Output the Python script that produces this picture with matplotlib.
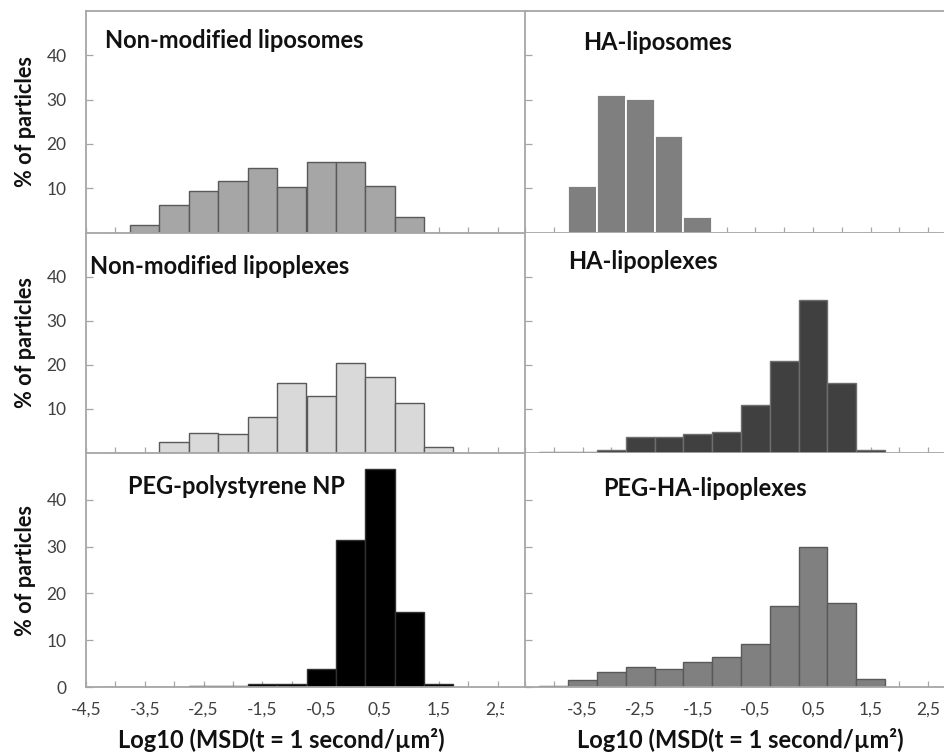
import numpy as np
import matplotlib
matplotlib.use("Agg")
import matplotlib.pyplot as plt
from matplotlib.patches import Rectangle

# ---- data: % of particles per log10(MSD) bin (bin width 0.5) ----
bin_centers = [-4.0, -3.5, -3.0, -2.5, -2.0, -1.5, -1.0, -0.5, 0.0, 0.5, 1.0, 1.5]

nonmod_liposomes = [0.0, 1.8, 6.2, 9.3, 11.6, 14.6, 10.3, 16.0, 16.0, 10.5, 3.5, 0.0]
ha_liposomes = [0.0, 10.5, 31.0, 30.2, 21.8, 3.6, 0.0, 0.0, 0.0, 0.0, 0.0, 0.0]
nonmod_lipoplexes = [0.0, 0.0, 2.5, 4.4, 4.2, 8.2, 15.8, 12.9, 20.4, 17.2, 11.2, 1.3]
ha_lipoplexes = [0.2, 0.2, 0.7, 3.5, 3.5, 4.2, 4.8, 10.9, 20.8, 34.6, 15.9, 0.7]
peg_polystyrene = [0.0, 0.0, 0.0, 0.2, 0.2, 0.7, 0.7, 4.0, 31.3, 46.6, 16.0, 0.7]
peg_ha_lipoplexes = [0.3, 1.5, 3.3, 4.4, 3.8, 5.4, 6.4, 9.2, 17.4, 29.8, 17.9, 1.8]

titles = ["Non-modified liposomes", "HA-liposomes",
          "Non-modified lipoplexes", "HA-lipoplexes",
          "PEG-polystyrene NP", "PEG-HA-lipoplexes"]

x_ticks = np.arange(-4.5, 3.01, 0.5)
x_labels_left = ["-4,5", "", "-3,5", "", "-2,5", "", "-1,5", "", "-0,5", "",
                 "0,5", "", "1,5", "", "2,5", ""]
x_labels_right = ["", "", "-3,5", "", "-2,5", "", "-1,5", "", "-0,5", "",
                  "0,5", "", "1,5", "", "2,5", ""]
y_ticks = [10, 20, 30, 40]
y_ticks_bottom = [0, 10, 20, 30, 40]

x_label = "Log10 (MSD(t = 1 second/\u00b5m\u00b2)"
y_label = "% of particles"

# ---- layout (pixels) ----
W, H = 944, 754
DPI = 100
plt.rcParams["font.family"] = ["Lato", "DejaVu Sans"]

fig = plt.figure(figsize=(W / DPI, H / DPI), dpi=DPI)
fig.patch.set_facecolor("white")

cols = [(86, 527), (525, 957)]
rows = [(11, 232.5), (232.5, 452.7), (452.7, 687.3)]

series = [nonmod_liposomes, ha_liposomes, nonmod_lipoplexes,
          ha_lipoplexes, peg_polystyrene, peg_ha_lipoplexes]
fills = ["#a6a6a6", "#7f7f7f", "#d9d9d9", "#404040", "#000000", "#808080"]
edges = ["#595959", "#ffffff", "#595959", "#6e6e6e", "#303030", "#595959"]
title_pos = [(105, 40), (583, 42), (90, 267), (568, 262), (128, 487), (603, 488)]

axis_grey = "#a6a6a6"
tick_text = "#404040"

for i, vals in enumerate(series):
    r, c = divmod(i, 2)
    x0, x1 = cols[c]
    y0, y1 = rows[r]
    ax = fig.add_axes([x0 / W, 1 - y1 / H, (x1 - x0) / W, (y1 - y0) / H],
                      zorder=c)
    ax.set_facecolor("white" if c == 1 else "none")
    ax.bar(bin_centers, vals, width=0.5, color=fills[i], edgecolor=edges[i],
           linewidth=1.0 if i != 1 else 1.3, zorder=2)
    ax.set_xlim(-4.5, 3.0)
    ax.set_ylim(0, 50)

    ax.spines["right"].set_visible(False)
    ax.spines["top"].set_visible(r == 0)
    for side in ("left", "bottom", "top"):
        ax.spines[side].set_color(axis_grey)
        ax.spines[side].set_linewidth(1.3)

    ax.set_xticks(x_ticks)
    if r == 2:
        ax.set_xticklabels(x_labels_left if c == 0 else x_labels_right)
    else:
        ax.set_xticklabels([])
    ax.tick_params(axis="x", direction="in", length=4, width=0.9,
                   color=axis_grey, labelsize=12.5, labelcolor=tick_text,
                   pad=10)

    ax.set_yticks(y_ticks_bottom if r == 2 else y_ticks)
    if c == 0:
        ax.set_yticklabels([str(v) for v in (y_ticks_bottom if r == 2 else y_ticks)])
    else:
        ax.set_yticklabels([])
    ax.tick_params(axis="y", direction="in", length=5, width=0.9,
                   color=axis_grey, labelsize=12.5, labelcolor=tick_text,
                   pad=14)

    tx, ty = title_pos[i]
    fig.text(tx / W, 1 - ty / H, titles[i], fontsize=17, fontweight="bold",
             color="#111111", ha="left", va="center")

# y-axis titles, one per row
for (y0, y1) in rows:
    fig.text(25 / W, 1 - ((y0 + y1) / 2) / H, y_label, rotation=90,
             fontsize=15.7, fontweight="bold", color="#111111",
             ha="center", va="center")

# x-axis titles under the bottom row
for xc in (281, 740):
    fig.text(xc / W, 1 - 740 / H, x_label, fontsize=17, fontweight="bold",
             color="#111111", ha="center", va="center")

# the right-hand chart area hides the end of the left tick labels
fig.add_artist(Rectangle((504 / W, 1 - 728 / H), (523 - 504) / W, (728 - 696) / H,
                         transform=fig.transFigure, facecolor="white",
                         edgecolor="none", zorder=10))

fig.savefig("out.png", dpi=DPI, facecolor="white")
